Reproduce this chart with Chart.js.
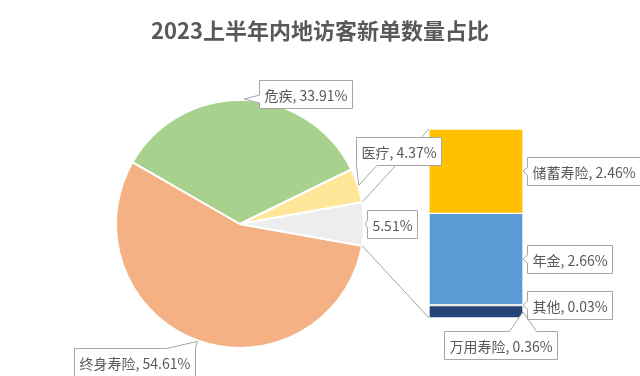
<!DOCTYPE html>
<html>
<head>
<meta charset="utf-8">
<script src="https://cdn.jsdelivr.net/npm/chart.js@4.4.1/dist/chart.umd.min.js"></script>
<style>
  body { margin: 0; background: #fff; }
  #wrap { position: relative; width: 640px; height: 376px; overflow: hidden; }
  #wrap canvas { position: absolute; left: 0; top: 0; }
  #title {
    position: absolute; left: 0; top: 13px; width: 640px;
    text-align: center; line-height: 34px;
    font: bold 22px "Noto Sans CJK SC", sans-serif; color: #595959;
  }
</style>
</head>
<body>
<div id="wrap">
  <canvas id="pieChart" width="640" height="376"></canvas>
  <canvas id="barChart" width="640" height="376"></canvas>
  <div id="title">2023上半年内地访客新单数量占比</div>
</div>
<script>
// ========== DATA ==========
const pieLabels = ['终身寿险', '危疾', '医疗', '其他'];
const pieValues = [54.61, 33.91, 4.37, 5.51];
const pieColors = ['#F4B183', '#A9D18E', '#FFE699', '#EDEDED'];

// stacked from bottom to top
const barLabels = ['万用寿险', '其他', '年金', '储蓄寿险'];
const barValues = [0.36, 0.03, 2.66, 2.46];
const barColors = ['#264478', '#A5A5A5', '#5B9BD5', '#FFC000'];

// ========== LABEL PLACEMENT (offset from the pointed mark) ==========
// [dx to box left edge, dy to box centre]
const pieLabelPos = [[-123, 21], [15, -5], [-3, -34], [2, 0]];
const barLabelPos = [[-79, 33], [4, 0], [4, 0], [4, 0]];

const labelFont = '14px "Noto Sans CJK SC", sans-serif';
const labelColor = '#595959';
const lineColor = '#A6A6A6';

const pieTotal = pieValues.reduce((a, b) => a + b, 0);
const barTotal = barValues.reduce((a, b) => a + b, 0);

// ========== PIE ==========
const pieChart = new Chart(document.getElementById('pieChart'), {
  type: 'pie',
  data: {
    labels: pieLabels,
    datasets: [{
      data: pieValues,
      backgroundColor: pieColors,
      borderColor: '#ffffff',
      borderWidth: 2
    }]
  },
  options: {
    responsive: false,
    animation: false,
    // last slice centred on the right side, facing the bar
    rotation: 90 + (pieValues[3] / pieTotal) * 180,
    layout: { padding: { left: 115, right: 275, top: 99, bottom: 27 } },
    plugins: { legend: { display: false }, tooltip: { enabled: false } }
  }
});

// ========== CALLOUT HELPER ==========
function clamp(v, a, b) { return Math.max(a, Math.min(b, v)); }

function drawCallout(ctx, tip, left, cy, text) {
  ctx.font = labelFont;
  const w = Math.round(ctx.measureText(text).width + 10);
  const h = 28;
  const x0 = Math.round(left) + 0.5, y0 = Math.round(cy - h / 2) + 0.5;
  const x1 = x0 + w, y1 = y0 + h;
  const rx = (tip.x - (x0 + x1) / 2) / (w / 2);
  const ry = (tip.y - (y0 + y1) / 2) / (h / 2);
  let side;
  if (Math.abs(rx) >= Math.abs(ry)) side = rx < 0 ? 'left' : 'right';
  else side = ry < 0 ? 'top' : 'bottom';

  ctx.beginPath();
  ctx.moveTo(x0, y0);
  if (side === 'top') {
    const hw = w * 0.12, m = clamp(tip.x, x0 + hw, x1 - hw);
    ctx.lineTo(m - hw, y0); ctx.lineTo(tip.x, tip.y); ctx.lineTo(m + hw, y0);
  }
  ctx.lineTo(x1, y0);
  if (side === 'right') {
    const hw = 4, m = clamp(tip.y, y0 + hw, y1 - hw);
    ctx.lineTo(x1, m - hw); ctx.lineTo(tip.x, tip.y); ctx.lineTo(x1, m + hw);
  }
  ctx.lineTo(x1, y1);
  if (side === 'bottom') {
    const hw = w * 0.12, m = clamp(tip.x, x0 + hw, x1 - hw);
    ctx.lineTo(m + hw, y1); ctx.lineTo(tip.x, tip.y); ctx.lineTo(m - hw, y1);
  }
  ctx.lineTo(x0, y1);
  if (side === 'left') {
    const hw = 4, m = clamp(tip.y, y0 + hw, y1 - hw);
    ctx.lineTo(x0, m + hw); ctx.lineTo(tip.x, tip.y); ctx.lineTo(x0, m - hw);
  }
  ctx.closePath();
  ctx.fillStyle = '#ffffff';
  ctx.fill();
  ctx.strokeStyle = lineColor;
  ctx.lineWidth = 1;
  ctx.stroke();

  ctx.fillStyle = labelColor;
  ctx.textAlign = 'center';
  ctx.textBaseline = 'middle';
  ctx.fillText(text, (x0 + x1) / 2, (y0 + y1) / 2 + 1);
}

// ========== CONNECTORS + LABELS ==========
const overlayPlugin = {
  id: 'barOfPieOverlay',
  afterDraw(chart) {
    const ctx = chart.ctx;
    const arcs = pieChart.getDatasetMeta(0).data;
    const rest = arcs[3];
    const topBar = chart.getDatasetMeta(barValues.length - 1).data[0];
    const bottomBar = chart.getDatasetMeta(0).data[0];
    const barLeft = topBar.x - topBar.width / 2;

    ctx.save();
    // lines from the split slice to the bar
    ctx.strokeStyle = lineColor;
    ctx.lineWidth = 1;
    ctx.beginPath();
    ctx.moveTo(rest.x + Math.cos(rest.startAngle) * rest.outerRadius, rest.y + Math.sin(rest.startAngle) * rest.outerRadius);
    ctx.lineTo(barLeft, topBar.y);
    ctx.moveTo(rest.x + Math.cos(rest.endAngle) * rest.outerRadius, rest.y + Math.sin(rest.endAngle) * rest.outerRadius);
    ctx.lineTo(barLeft, bottomBar.base);
    ctx.stroke();

    // pie labels
    arcs.forEach((arc, i) => {
      const mid = (arc.startAngle + arc.endAngle) / 2;
      const tip = {
        x: arc.x + Math.cos(mid) * (arc.outerRadius + 1),
        y: arc.y + Math.sin(mid) * (arc.outerRadius + 1)
      };
      const text = i === 3 ? pieValues[i].toFixed(2) + '%' : pieLabels[i] + ', ' + pieValues[i].toFixed(2) + '%';
      drawCallout(ctx, tip, tip.x + pieLabelPos[i][0], tip.y + pieLabelPos[i][1], text);
    });

    // bar labels
    barValues.forEach((v, i) => {
      const el = chart.getDatasetMeta(i).data[0];
      const tip = { x: el.x + el.width / 2, y: (el.y + el.base) / 2 };
      drawCallout(ctx, tip, tip.x + barLabelPos[i][0], tip.y + barLabelPos[i][1], barLabels[i] + ', ' + v.toFixed(2) + '%');
    });
    ctx.restore();
  }
};

// ========== BAR ==========
const barChart = new Chart(document.getElementById('barChart'), {
  type: 'bar',
  data: {
    labels: [''],
    datasets: barValues.map((v, i) => ({
      label: barLabels[i],
      data: [v],
      backgroundColor: barColors[i],
      borderColor: '#ffffff',
      borderWidth: 1,
      borderSkipped: false,
      barPercentage: 1,
      categoryPercentage: 1
    }))
  },
  options: {
    responsive: false,
    animation: false,
    layout: { padding: { left: 429, right: 117, top: 129, bottom: 58 } },
    scales: {
      x: { stacked: true, display: false },
      y: { stacked: true, display: false, min: 0, max: barTotal }
    },
    plugins: { legend: { display: false }, tooltip: { enabled: false } }
  },
  plugins: [overlayPlugin]
});
</script>
</body>
</html>
